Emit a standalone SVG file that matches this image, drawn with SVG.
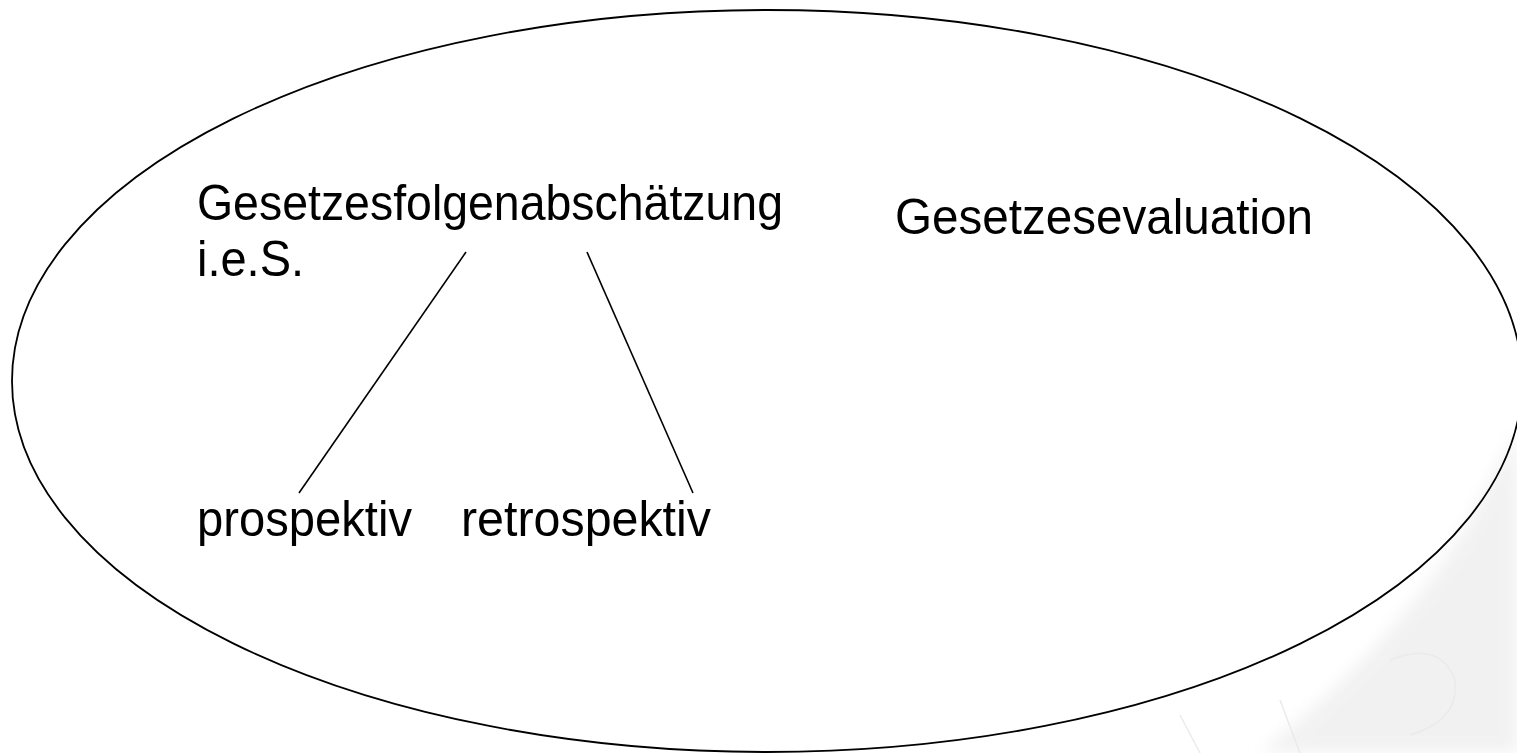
<svg xmlns="http://www.w3.org/2000/svg" width="1517" height="753" viewBox="0 0 1517 753">
  <style>
    .lbl { font-family: "Liberation Sans", Arial, sans-serif; font-size: 50px; fill: #000; }
    .edge { stroke: #000; stroke-width: 1.6; fill: none; }
    .wm { fill: none; stroke: #e2e2e2; stroke-width: 1.5; }
  </style>
  <defs>
    <filter id="blur" x="-20%" y="-20%" width="140%" height="140%">
      <feGaussianBlur stdDeviation="8"/>
    </filter>
  </defs>
  <rect width="1517" height="753" fill="#fff"/>
  <g id="watermark" opacity="0.7">
    <path d="M1517,430 L1517,753 L1260,753 Q1400,640 1470,520 Z" fill="#ececec" filter="url(#blur)"/>
    <path class="wm" d="M1390,660 Q1440,640 1455,680 Q1460,720 1410,735"/>
    <path class="wm" d="M1280,700 L1300,753"/>
    <path class="wm" d="M1180,715 L1200,753"/>
  </g>
  <g id="ellipse">
    <ellipse cx="767" cy="381" rx="755" ry="371" fill="none" stroke="#000" stroke-width="1.8"/>
  </g>
  <g id="node-gfa">
    <text class="lbl" x="197" y="220" textLength="586" lengthAdjust="spacingAndGlyphs">Gesetzesfolgenabschätzung</text>
    <text class="lbl" x="197" y="276" textLength="107" lengthAdjust="spacingAndGlyphs">i.e.S.</text>
  </g>
  <g id="node-eval">
    <text class="lbl" x="895" y="234" textLength="418" lengthAdjust="spacingAndGlyphs">Gesetzesevaluation</text>
  </g>
  <g id="node-prospektiv">
    <text class="lbl" x="197" y="536" textLength="215" lengthAdjust="spacingAndGlyphs">prospektiv</text>
  </g>
  <g id="node-retrospektiv">
    <text class="lbl" x="461" y="536" textLength="250" lengthAdjust="spacingAndGlyphs">retrospektiv</text>
  </g>
  <g id="connectors">
    <line class="edge" x1="466" y1="252" x2="299" y2="493"/>
    <line class="edge" x1="587" y1="252" x2="693" y2="493"/>
  </g>
</svg>
